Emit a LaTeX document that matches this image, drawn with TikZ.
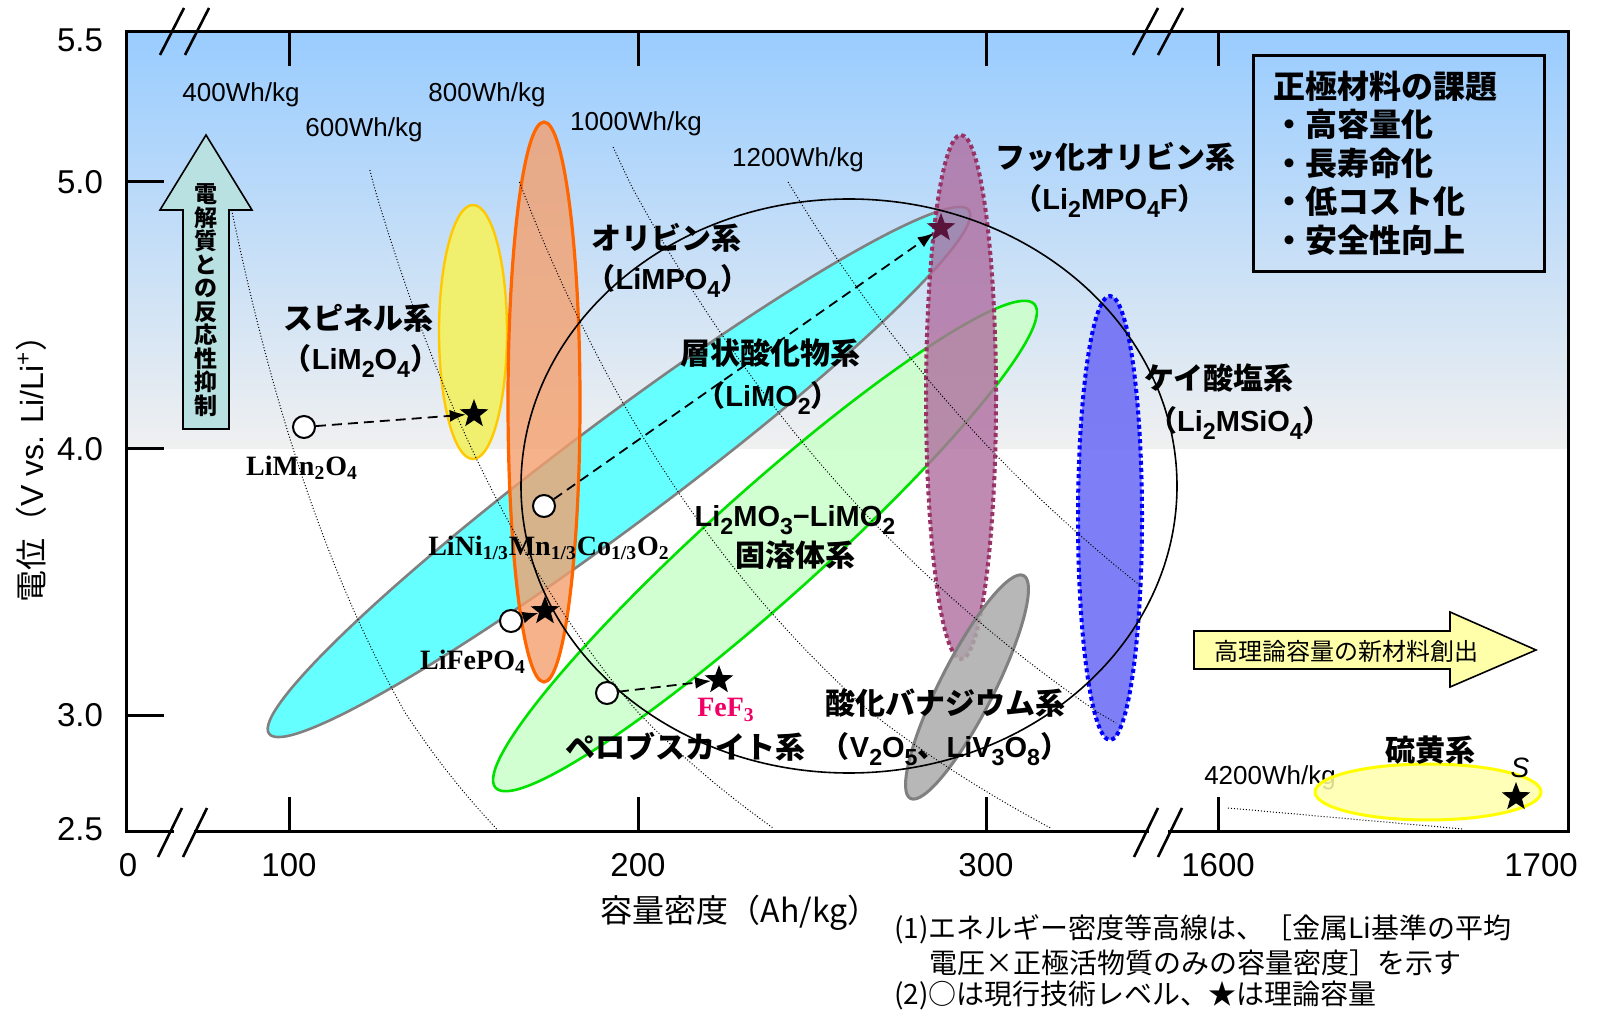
\documentclass[tikz,border=0pt]{standalone}
\usepackage{fontspec}
\usepackage{graphicx}
\setmainfont{Liberation Sans}
\newfontfamily\jp{Noto Sans CJK JP}
\newfontfamily\tms{Liberation Serif}
\usetikzlibrary{shapes.geometric,arrows.meta}

\definecolor{azulceu}{RGB}{153,204,255}
\definecolor{cinzafundo}{RGB}{240,240,240}
\definecolor{ciano}{RGB}{102,255,255}
\definecolor{laranja}{RGB}{244,160,110}
\definecolor{laranjaborda}{RGB}{255,102,0}
\definecolor{amarelo}{RGB}{240,240,110}
\definecolor{ouro}{RGB}{255,200,0}
\definecolor{verdeclaro}{RGB}{204,255,204}
\definecolor{verde}{RGB}{0,225,0}
\definecolor{roxo}{RGB}{176,110,160}
\definecolor{roxoborda}{RGB}{153,51,102}
\definecolor{anil}{RGB}{112,112,245}
\definecolor{azul}{RGB}{0,0,255}
\definecolor{cinza}{RGB}{128,128,128}
\definecolor{cinzamedio}{RGB}{170,170,170}
\definecolor{palha}{RGB}{255,255,170}
\definecolor{amarelovivo}{RGB}{255,255,0}
\definecolor{turquesa}{RGB}{185,225,225}
\definecolor{rosa}{RGB}{240,0,100}
\definecolor{vinho}{RGB}{90,20,60}

\newcommand{\lp}{{\jp （}}
\newcommand{\rp}{{\jp ）}}
\newcommand{\sbs}[1]{\raisebox{-0.3em}{\scalebox{0.8}{#1}}}

\begin{document}
\begin{tikzpicture}[x=0.5pt, y=-0.5pt,
    declare function={vv(\q)=(\q<182) ? (5+(182-\q)/300) : ((\q<715) ? (4-(\q-449)/266.5) : (3-(\q-715)/232));
                      px(\c)=638+3.485*(\c-200);},
    curva/.style={densely dotted, line width=0.5pt},
    atual/.style={circle, draw, fill=white, line width=1pt, minimum size=11pt, inner sep=0pt},
    teorico/.style={star, star points=5, star point ratio=2.4, fill=black, inner sep=0pt, minimum size=15pt},
    titulo/.style={font=\jp\bfseries\fontsize{15}{18}\selectfont},
    formula/.style={font=\bfseries\fontsize{14.5}{17}\selectfont},
    serifa/.style={font=\tms\bfseries\fontsize{14}{17}\selectfont},
    pontos/.style={line width=2pt, dash pattern=on 2pt off 1.6pt},
    seta/.style={dash pattern=on 5pt off 3pt, line width=0.9pt, -{Latex[length=8pt,width=6pt]}}]

    \useasboundingbox (0,0) rectangle (1601,1015);

    % Fundo em degradê
    \shade[top color=azulceu, bottom color=cinzafundo] (126,32) rectangle (1568,449);

    % Regiões dos materiais
    \filldraw[fill=ciano, draw=cinza, line width=1.3pt, rotate around={36.8:(619,472)}] (619,472) ellipse [x radius=437, y radius=52];
    \filldraw[fill=verdeclaro, fill opacity=0.9, draw=verde, line width=1.3pt, rotate around={41.9:(765,546)}] (765,546) ellipse [x radius=362, y radius=55];
    \filldraw[fill=amarelo, draw=ouro, line width=1.2pt] (473,332) ellipse [x radius=34, y radius=127];
    \filldraw[fill=laranja, fill opacity=0.8, draw=laranjaborda, line width=1.6pt] (544,402) ellipse [x radius=36, y radius=280];
    \filldraw[fill=roxo, fill opacity=0.8, draw=roxoborda, pontos] (961,397) ellipse [x radius=35, y radius=262];
    \filldraw[fill=anil, fill opacity=0.9, draw=azul, pontos] (1110,518) ellipse [x radius=32, y radius=222];
    \filldraw[fill=cinzamedio, fill opacity=0.85, draw=cinza, line width=1.5pt, rotate around={63.1:(967,687)}] (967,687) ellipse [x radius=125, y radius=27];

    % Curvas de energia (\d: desvio no topo)
    \foreach \E/\a/\b/\d in {400/210/829/6, 600/170/828/14, 800/182/828/21, 1000/147/723/-9, 1200/182/588/11}
        \draw[curva] plot[domain=\a:\b, samples=60, variable=\q] ({px(\E/vv(\q))+\d*(\b-\q)/(\b-\a)}, \q);
    \draw[curva] (1228,808) -- (1463,829);
    \foreach \E/\x/\y in {400/241/95, 600/364/130, 800/487/95, 1000/636/124, 1200/798/160, 4200/1270/778}
        \node[font=\fontsize{13}{15}\selectfont] (e\E) at (\x,\y) {\E Wh/kg};

    % Enxofre (por cima do rótulo)
    \filldraw[fill=palha, fill opacity=0.85, draw=amarelovivo, line width=1.5pt] (1428,792) ellipse [x radius=113, y radius=28];

    % Elipse grande
    \draw[line width=0.8pt] (849,486) ellipse [x radius=328, y radius=287];

    % Setas largas
    \filldraw[fill=turquesa, draw=black, line width=0.8pt] (183,429) -- (183,210) -- (160,210) -- (206,135) -- (252,210) -- (229,210) -- (229,429) -- cycle;
    \node[font=\jp\bfseries\fontsize{11.5}{11.75}\selectfont, align=center] (reacao) at (206,300) {電\\解\\質\\と\\の\\反\\応\\性\\抑\\制};
    \filldraw[fill=palha, draw=black, line width=0.8pt] (1194,631) -- (1450,631) -- (1450,612) -- (1536,650) -- (1450,687) -- (1450,669) -- (1194,669) -- cycle;
    \node[font=\jp\fontsize{12}{14}\selectfont] (novo) at (1346,651) {高理論容量の新材料創出};

    % Moldura e marcas
    \draw[line width=1.5pt] (126,32) rectangle (1568,831);
    \foreach \y in {182,449,715}
        \draw[line width=1.5pt] (126,\y) -- (164,\y);
    \foreach \x in {289,638,986,1218} {
        \draw[line width=1.5pt] (\x,32) -- (\x,66);
        \draw[line width=1.5pt] (\x,831) -- (\x,797);
    }

    % Quebras do eixo
    \draw[white, line width=2.5pt] (174,831) -- (194,831);
    \draw[white, line width=2.5pt] (1149,831) -- (1168,831);
    \draw[line width=1.3pt] (160,55) -- (184,8) (185,55) -- (209,8);
    \draw[line width=1.3pt] (1133,55) -- (1158,8) (1158,55) -- (1183,8);
    \draw[line width=1.3pt] (158,857) -- (182,808) (183,857) -- (207,808);
    \draw[line width=1.3pt] (1134,857) -- (1158,808) (1158,857) -- (1182,808);

    % Rótulos dos eixos
    \foreach \y/\v [count=\i] in {40/5.5, 182/5.0, 449/4.0, 715/3.0, 829/2.5}
        \node[anchor=east, font=\fontsize{16.5}{18}\selectfont] (yl\i) at (110,\y) {\v};
    \foreach \x/\c [count=\i] in {128/0, 289/100, 638/200, 986/300, 1218/1600, 1541/1700}
        \node[font=\fontsize{16.5}{18}\selectfont] (xl\i) at (\x,865) {\c};
    \node[rotate=90, font=\fontsize{16}{19}\selectfont] (ylab) at (31,461) {{\jp 電位（}V vs. Li/Li\textsuperscript{+}{\jp ）}};
    \node[font=\jp\fontsize{16}{19}\selectfont] (xlab) at (740,913) {容量密度（Ah/kg）};

    % Pontos atuais e teóricos
    \node[atual] (cMn) at (304,427) {};
    \node[atual] (cNMC) at (544,506) {};
    \node[atual] (cFeP) at (511,621) {};
    \node[atual] (cFeF) at (607,693) {};
    \node[teorico] (sSp) at (474,414) {};
    \node[teorico] (sFeP) at (545,611) {};
    \node[teorico, fill=vinho] (sLPF) at (941,228) {};
    \node[teorico] (sFeF) at (719,680) {};
    \node[teorico] (sS) at (1516,797) {};

    % Setas tracejadas
    \draw[seta] (cMn) -- (sSp);
    \draw[seta] (cNMC) -- (sLPF);
    \draw[seta] (cFeF) -- (sFeF);
    \draw[seta] (cFeP) -- (sFeP);

    % Nomes dos sistemas
    \node[titulo] (tSp) at (358,318) {スピネル系};
    \node[formula] (fSp) at (361,361) {\lp LiM\sbs{2}O\sbs{4}\rp};
    \node[titulo] (tOl) at (666,238) {オリビン系};
    \node[formula] (fOl) at (668,281) {\lp LiMPO\sbs{4}\rp};
    \node[titulo] (tLy) at (770,353) {層状酸化物系};
    \node[formula] (fLy) at (768,398) {\lp LiMO\sbs{2}\rp};
    \node[titulo] (tFO) at (1115,157) {フッ化オリビン系};
    \node[formula] (fFO) at (1110,201) {\lp Li\sbs{2}MPO\sbs{4}F\rp};
    \node[titulo] (tSi) at (1219,378) {ケイ酸塩系};
    \node[formula] (fSi) at (1240,423) {\lp Li\sbs{2}MSiO\sbs{4}\rp};
    \node[formula] (fSS) at (795,520) {Li\sbs{2}MO\sbs{3}−LiMO\sbs{2}};
    \node[titulo] (tSS) at (795,555) {固溶体系};
    \node[titulo] (tPv) at (685,747) {ペロブスカイト系};
    \node[titulo] (tVO) at (945,703) {酸化バナジウム系};
    \node[formula] (fVO) at (945,749) {\lp V\sbs{2}O\sbs{5}{\jp\bfseries 、}LiV\sbs{3}O\sbs{8}\rp};
    \node[titulo] (tS) at (1430,750) {硫黄系};
    \node[font=\itshape\fontsize{14}{17}\selectfont] (lS) at (1520,768) {S};

    % Materiais atuais
    \node[serifa] (nMn) at (302,468) {LiMn\textsubscript{2}O\textsubscript{4}};
    \node[serifa] (nNMC) at (549,548) {LiNi\textsubscript{1/3}Mn\textsubscript{1/3}Co\textsubscript{1/3}O\textsubscript{2}};
    \node[serifa] (nFeP) at (473,662) {LiFePO\textsubscript{4}};
    \node[serifa, text=rosa] (nFeF) at (726,710) {FeF\textsubscript{3}};

    % Quadro dos desafios
    \node[draw, line width=1.3pt, anchor=north west, inner xsep=10pt, text width=125.5pt, minimum height=108pt, align=left,
          font=\jp\bfseries\fontsize{16}{19.25}\selectfont] (desafios) at (1252,54)
          {正極材料の課題\\・高容量化\\・長寿命化\\・低コスト化\\・安全性向上};

    % Notas
    \node[anchor=west, font=\jp\fontsize{14}{17}\selectfont] (nota1) at (887,929) {(1)エネルギー密度等高線は、［金属Li基準の平均};
    \node[anchor=west, font=\jp\fontsize{14}{17}\selectfont] (nota2) at (922,963) {電圧×正極活物質のみの容量密度］を示す};
    \node[anchor=west, font=\jp\fontsize{14}{17}\selectfont] (nota3) at (887,995) {(2)○は現行技術レベル、★は理論容量};

\end{tikzpicture}
\end{document}
